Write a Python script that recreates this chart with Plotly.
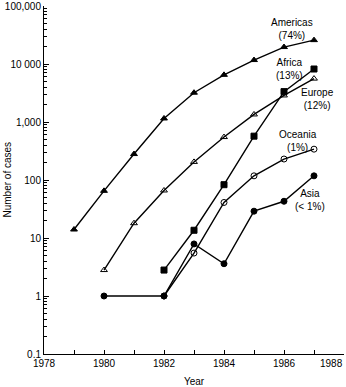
import plotly.graph_objects as go

years_americas = [1979, 1980, 1981, 1982, 1983, 1984, 1985, 1986, 1987]
americas = [14, 65, 280, 1150, 3200, 6500, 11700, 19600, 25800]

years_europe = [1980, 1981, 1982, 1983, 1984, 1985, 1986, 1987]
europe = [2.8, 18, 66, 205, 550, 1350, 2870, 5600]

years_africa = [1982, 1983, 1984, 1985, 1986, 1987]
africa = [2.8, 13.6, 83, 570, 3340, 8200]

years_oceania = [1982, 1983, 1984, 1985, 1986, 1987]
oceania = [1, 5.5, 41, 118, 230, 340]

years_asia = [1980, 1982, 1983, 1984, 1985, 1986, 1987]
asia = [1, 1, 7.9, 3.6, 29, 43, 118]

y_tickvals = [0.1, 1, 10, 100, 1000, 10000, 100000]
y_ticktext = ["0.1", "1", "10", "100", "1,000", "10 000", "100,000"]
x_tickvals = [1978, 1980, 1982, 1984, 1986, 1988]
x_ticktext = ["1978", "1980", "1982", "1984", "1986", ""]
last_year_label = "1988"

FONT = "Liberation Sans Narrow, Arial Narrow, Liberation Sans, Arial, sans-serif"

fig = go.Figure()

def add(xs, ys, symbol, size):
    fig.add_trace(go.Scatter(
        x=xs, y=ys, mode="lines+markers",
        line=dict(color="black", width=1.4),
        marker=dict(symbol=symbol, size=size, color="black",
                    line=dict(color="black", width=1)),
        showlegend=False, cliponaxis=False))

add(years_americas, americas, "triangle-up", 6)
add(years_europe, europe, "triangle-up-open", 6)
add(years_africa, africa, "square", 6)
add(years_oceania, oceania, "circle-open", 6)
add(years_asia, asia, "circle", 6)

# label text, x (year), y (log10 value)
labels = [
    ("Americas<br>(74%)", 1986.27, 4.60),
    ("Africa<br>(13%)", 1986.17, 3.91),
    ("Europe<br>(12%)", 1987.1, 3.39),
    ("Oceania<br>(1%)", 1986.45, 2.68),
    ("Asia<br>(< 1%)", 1986.87, 1.66),
]
for text, xv, ylog in labels:
    fig.add_annotation(x=xv, xref="x", y=ylog, yref="y", text=text,
                       xanchor="center", yanchor="middle",
                       showarrow=False, font=dict(size=10, color="black", family=FONT),
                       align="center")

# last x tick label, kept inside the page
fig.add_annotation(x=1.0, xref="paper", y=0, yref="paper", text=last_year_label,
                   xanchor="right", yanchor="top", xshift=1, yshift=-2,
                   showarrow=False, font=dict(size=10, color="black", family=FONT))

fig.add_annotation(x=-0.125, xref="paper", y=0.5, yref="paper",
                   xanchor="center", yanchor="middle",
                   text="Number of cases", textangle=-90, showarrow=False,
                   font=dict(size=10, color="black", family=FONT))

minor_y = [m * 10 ** k for k in range(-1, 5) for m in range(2, 10)]

fig.update_layout(
    width=346, height=387,
    margin=dict(l=44, r=2, t=6, b=33, autoexpand=False),
    paper_bgcolor="white", plot_bgcolor="white",
    font=dict(family=FONT, size=10, color="black"),
    xaxis=dict(
        range=[1978, 1988], tickvals=x_tickvals, ticktext=x_ticktext,
        ticks="inside", ticklen=4,
        tickcolor="black", showline=True, linecolor="black", linewidth=1,
        showgrid=False, zeroline=False, ticklabeloverflow="allow",
        automargin=False,
        minor=dict(tickvals=[1979, 1981, 1983, 1985, 1987], ticks="inside",
                   ticklen=4, tickcolor="black"),
        title=dict(text="Year", standoff=10, font=dict(size=10)),
        tickfont=dict(size=10),
    ),
    yaxis=dict(
        type="log", range=[-1, 5], tickvals=y_tickvals, ticktext=y_ticktext,
        ticks="inside", ticklen=5, tickcolor="black",
        showline=True, linecolor="black", linewidth=1,
        showgrid=False, zeroline=False, ticklabeloverflow="allow",
        automargin=False,
        minor=dict(tickvals=minor_y, ticks="inside", ticklen=3, tickcolor="black"),
        tickfont=dict(size=10),
    ),
)

fig.write_html("out.html")
